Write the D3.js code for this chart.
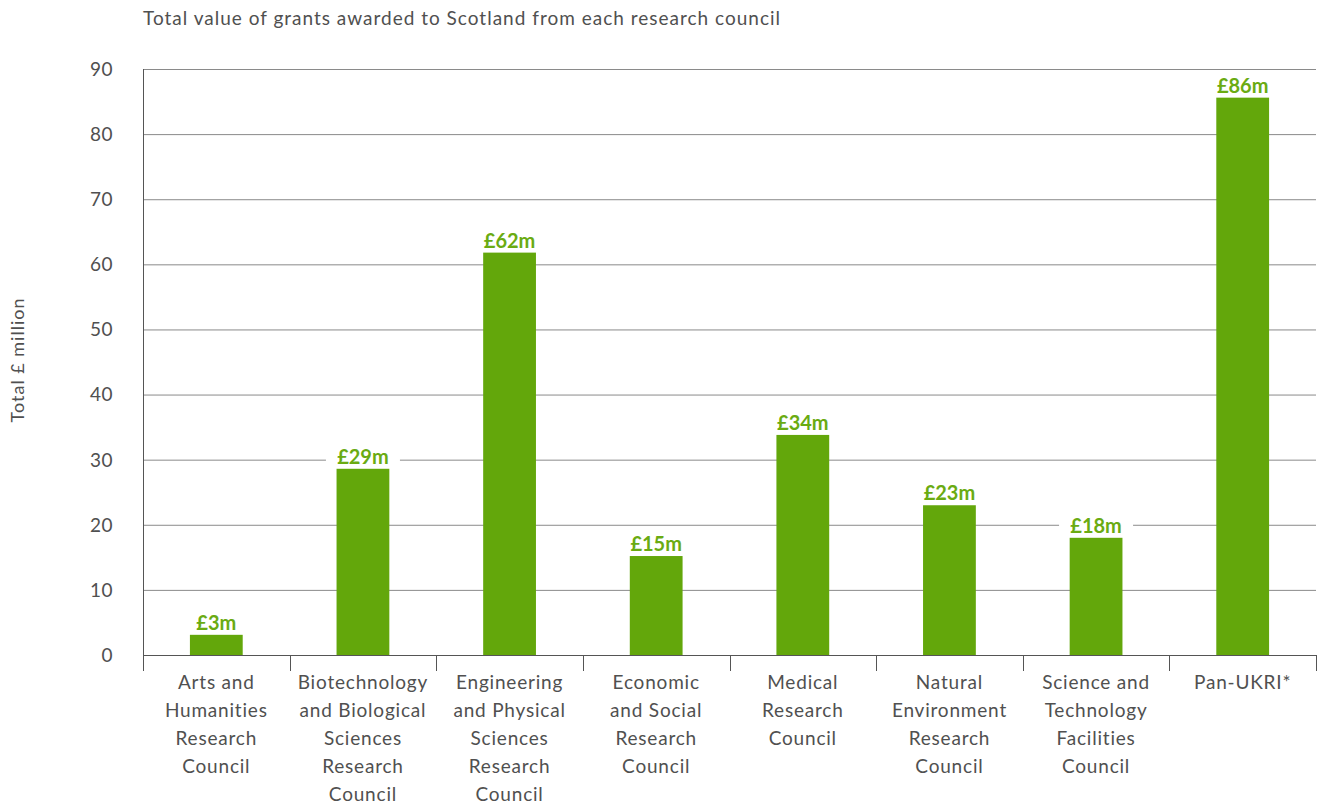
<!DOCTYPE html>
<html>
<head>
<meta charset="utf-8">
<script src="https://cdn.jsdelivr.net/npm/d3@7"></script>
<style>
  html, body { margin:0; padding:0; background:#fff; }
  svg { display:block; font-family: Lato, "Open Sans", sans-serif; }
</style>
</head>
<body>
<div id="chart"></div>
<script>
// data
const councils = [
  ['Arts and','Humanities','Research','Council'],
  ['Biotechnology','and Biological','Sciences','Research','Council'],
  ['Engineering','and Physical','Sciences','Research','Council'],
  ['Economic','and Social','Research','Council'],
  ['Medical','Research','Council'],
  ['Natural','Environment','Research','Council'],
  ['Science and','Technology','Facilities','Council'],
  ['Pan-UKRI*']
];
const values = [3.1, 28.6, 61.8, 15.2, 33.8, 23.0, 18.0, 85.6];
const valueLabels = ['£3m','£29m','£62m','£15m','£34m','£23m','£18m','£86m'];
const yTicks = [0,10,20,30,40,50,60,70,80,90];

const W = 1320, H = 807;
const m = {left:143, right:4, top:69, bottom:152};
const svg = d3.select('#chart').append('svg').attr('width', W).attr('height', H);

const x = d3.scaleBand().domain(d3.range(values.length))
  .range([m.left, W - m.right]).paddingInner(0.64).paddingOuter(0.32);
const y = d3.scaleLinear().domain([0, 90]).range([H - m.bottom, m.top]);

const green = '#63a70b', ink = '#505050';

// title
svg.append('text').attr('x', m.left).attr('y', 25)
  .attr('fill', ink).attr('font-size', 19).attr('letter-spacing', 1)
  .text('Total value of grants awarded to Scotland from each research council');

// y axis title
svg.append('text').attr('transform', `translate(24,${360}) rotate(-90)`)
  .attr('text-anchor','middle').attr('fill', ink).attr('font-size', 18).attr('letter-spacing', 1)
  .text('Total £ million');

// gridlines
svg.append('g').selectAll('line').data(yTicks.filter(d => d > 0)).join('line')
  .attr('x1', m.left).attr('x2', W - m.right)
  .attr('y1', d => y(d) + 0.5).attr('y2', d => y(d) + 0.5)
  .attr('stroke', '#8a8a8a').attr('stroke-width', 1);

// y tick labels
svg.append('g').selectAll('text').data(yTicks).join('text')
  .attr('x', 113).attr('y', d => y(d)).attr('dy', '0.36em')
  .attr('text-anchor','end').attr('fill', ink).attr('font-size', 19).attr('letter-spacing', 0.5)
  .text(d => d);

// left axis line
svg.append('line').attr('x1', m.left + 0.5).attr('x2', m.left + 0.5)
  .attr('y1', m.top).attr('y2', y(0) + 16).attr('stroke', '#555');

// bars
svg.append('g').selectAll('rect').data(values).join('rect')
  .attr('x', (d,i) => x(i)).attr('width', x.bandwidth())
  .attr('y', d => y(d)).attr('height', d => y(0) - y(d)).attr('fill', green);

// baseline + category ticks
svg.append('line').attr('x1', m.left).attr('x2', W - m.right)
  .attr('y1', y(0) + 0.5).attr('y2', y(0) + 0.5).attr('stroke', '#555');
const step = x.step();
const bounds = d3.range(values.length + 1).map(i => m.left + i * step);
svg.append('g').selectAll('line').data(bounds).join('line')
  .attr('x1', d => Math.round(d) + 0.5).attr('x2', d => Math.round(d) + 0.5)
  .attr('y1', y(0)).attr('y2', y(0) + 16).attr('stroke', '#555');

// value labels with white backing
const lab = svg.append('g').selectAll('g').data(values).join('g')
  .attr('transform', (d,i) => `translate(${x(i) + x.bandwidth()/2},${y(d) - 5})`);
lab.append('rect').attr('x', -37).attr('width', 74).attr('y', -18).attr('height', 18).attr('fill', '#fff');
lab.append('text').attr('text-anchor','middle').attr('fill', '#6aab12')
  .attr('font-size', 20).attr('font-weight', 700)
  .text((d,i) => valueLabels[i]);

// category labels
const cat = svg.append('g').selectAll('text').data(councils).join('text')
  .attr('text-anchor','middle').attr('fill', ink).attr('font-size', 19).attr('letter-spacing', 0.8)
  .attr('x', (d,i) => x(i) + x.bandwidth()/2);
cat.selectAll('tspan').data(d => d).join('tspan')
  .attr('x', function(){ return this.parentNode.getAttribute('x'); })
  .attr('y', (d,j) => 689 + j * 28).text(d => d);
</script>
</body>
</html>
